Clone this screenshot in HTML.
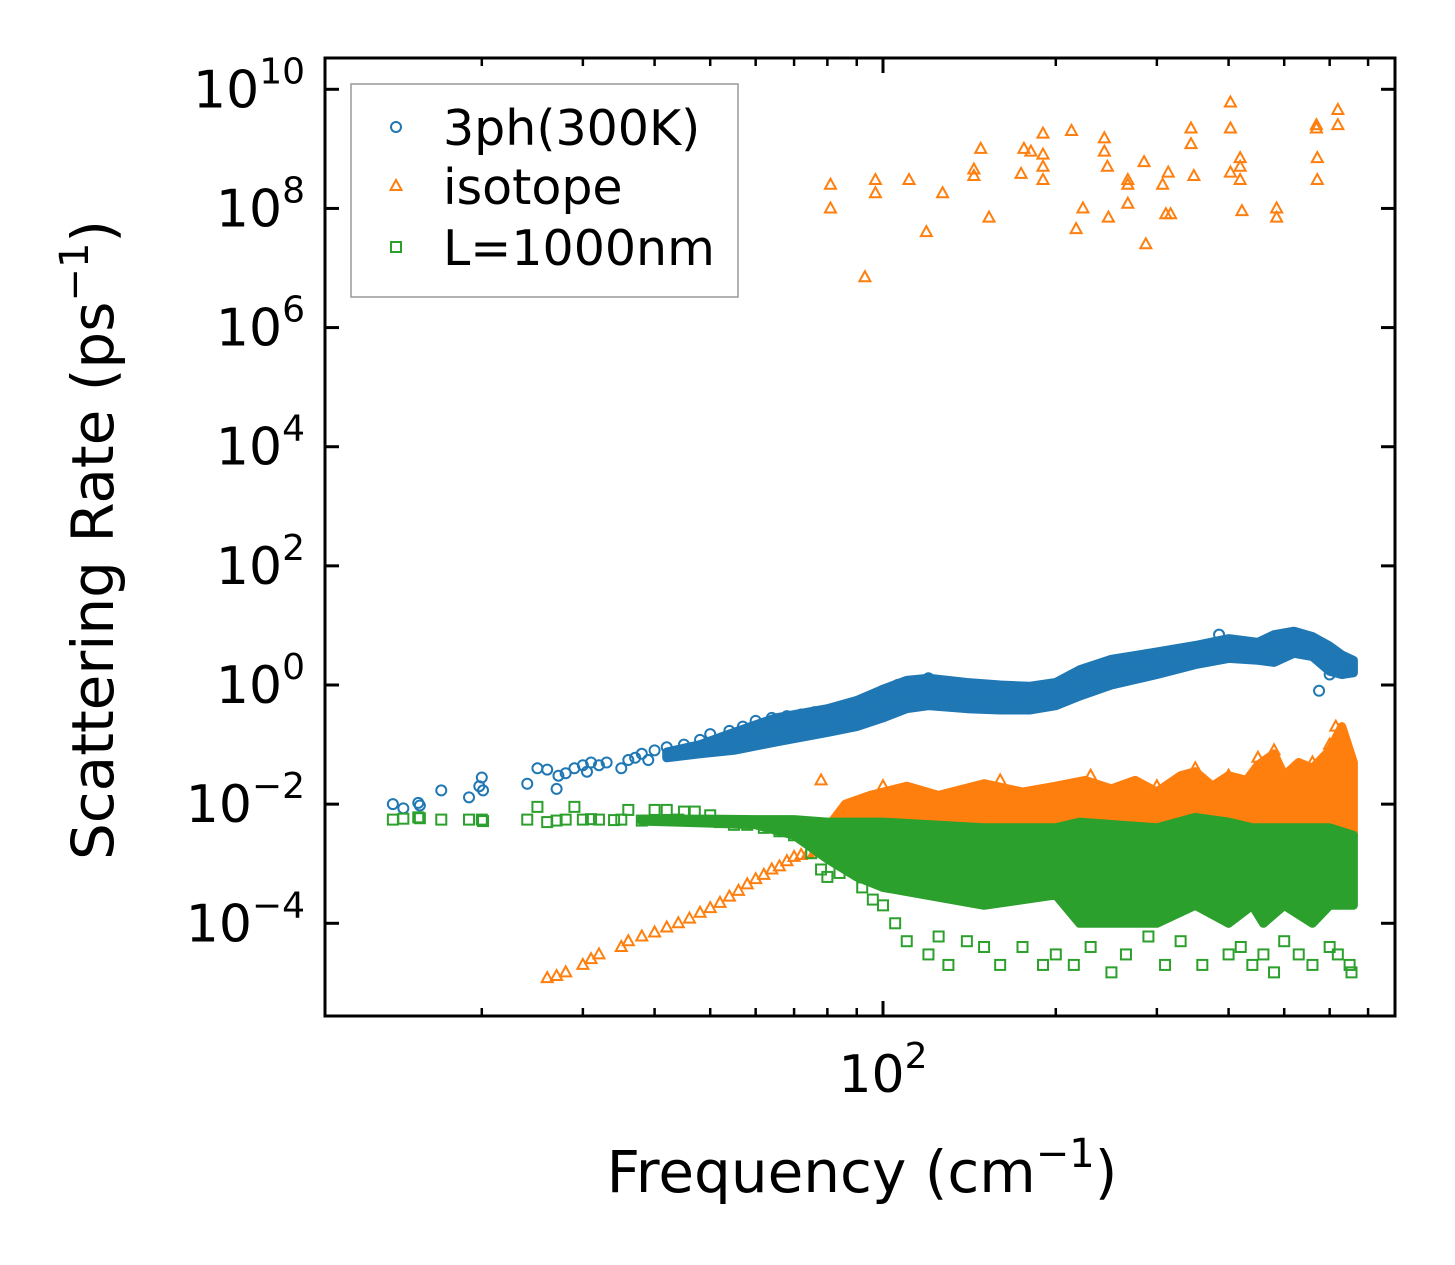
<!DOCTYPE html>
<html><head><meta charset="utf-8"><style>
html,body{margin:0;padding:0;background:#fff}
svg{display:block;font-family:"DejaVu Sans","Liberation Sans",sans-serif}
</style></head><body>
<svg id="chart" width="1455" height="1265" viewBox="0 0 1455 1265" xmlns="http://www.w3.org/2000/svg">
<rect x="0" y="0" width="1455" height="1265" fill="#fff"/>
<g id="bands"></g>
<g id="marks"></g>
<g id="axes"></g>
</svg>
<script>
// ---- data ----
const blueFreq=[14,14.6,15.5,15.6,17,19,19.8,20,20.1,24,25,26,27,27.2,28,29,30,30.5,31,32,33,35,36,37,38,39,40,42,45,48,50,54,57,60,64,68,72,76,82,88,94,100,106,112,120,125,135,150,170,200,240,290,340,385,400,450,490,520,560,575,600,640,655];
const blueRate=[0.01,0.0085,0.0105,0.0095,0.017,0.013,0.02,0.028,0.017,0.022,0.04,0.038,0.018,0.03,0.033,0.04,0.045,0.035,0.05,0.045,0.05,0.04,0.055,0.06,0.07,0.055,0.08,0.09,0.1,0.12,0.15,0.17,0.2,0.25,0.28,0.3,0.32,0.35,0.4,0.45,0.6,0.8,1.0,0.9,1.3,0.6,0.9,0.85,0.7,0.9,2.0,2.8,3.5,7.0,4.0,3.5,5.5,7.0,5.5,0.8,1.5,2.2,2.0];
const blueBandFreq=[42,48,55,65,80,90,100,110,120,140,160,180,200,220,250,300,350,400,450,480,520,560,600,630,660];
const blueBandLo=[0.06,0.07,0.08,0.11,0.16,0.2,0.28,0.4,0.45,0.4,0.38,0.38,0.45,0.65,1.0,1.5,2.2,2.8,2.6,2.4,3.4,3.0,1.7,1.5,1.6];
const blueBandHi=[0.075,0.1,0.16,0.28,0.4,0.55,0.85,1.2,1.3,1.1,1.0,0.95,1.1,1.8,2.7,3.6,4.6,6.0,5.2,7.0,8.0,6.5,4.5,3.2,2.6];

const orangeLowFreq=[26,27,28,30,31,32,35,36,38,40,42,44,46,48,50,52,54,56,58,60,62,64,66,68,70,72,74,76,78,80];
const orangeLowRate=[1.2e-5,1.3e-5,1.5e-5,2e-5,2.5e-5,3e-5,4e-5,5e-5,6e-5,7e-5,8.5e-5,1e-4,1.2e-4,1.5e-4,1.8e-4,2.2e-4,2.8e-4,3.5e-4,4.5e-4,5.5e-4,6.5e-4,8e-4,9e-4,1.1e-3,1.3e-3,1.4e-3,1.5e-3,1.6e-3,1.8e-3,2e-3];
const orangeTopFreq=[81,81,93,97,97,111,119,127,144,144,148,153,174,176,181,190,190,190,190,213,217,223,243,243,246,247,267,267,267,285,287,307,311,314,317,344,344,348,403,403,403,419,419,419,422,485,485,569,569,571,571,620,620];
const orangeTopRate=[2.5e8,1e8,7e6,3e8,1.8e8,3e8,4e7,1.8e8,3.5e8,4.5e8,1e9,7e7,3.8e8,1e9,9e8,1.8e9,8e8,5e8,3e8,2e9,4.5e7,1e8,1.5e9,9e8,5e8,7e7,3e8,1.2e8,2.5e8,6e8,2.5e7,2.5e8,8e7,4e8,8e7,2.2e9,1.2e9,3.5e8,6e9,2.2e9,4e8,7e8,5e8,3e8,9e7,1e8,7e7,2.5e9,2.2e9,7e8,3e8,4.5e9,2.5e9];
const orangeMidFreq=[78,100,160,230,300,350,400,450,480,560,600,615,630,650];
const orangeMidRate=[0.025,0.02,0.025,0.03,0.02,0.04,0.03,0.06,0.08,0.05,0.1,0.2,0.15,0.04];
const orangeBandFreq=[80,86,95,110,125,150,175,200,225,250,275,300,330,350,375,400,430,450,480,500,530,560,600,630,660];
const orangeBandLo=[0.002,0.003,0.003,0.003,0.003,0.003,0.003,0.003,0.003,0.003,0.003,0.003,0.002,0.002,0.003,0.003,0.002,0.002,0.002,0.002,0.001,0.001,0.001,0.002,0.003];
const orangeBandHi=[0.004,0.01,0.014,0.02,0.014,0.022,0.016,0.02,0.025,0.018,0.025,0.016,0.03,0.035,0.02,0.03,0.025,0.045,0.07,0.03,0.05,0.04,0.08,0.2,0.05];

const greenFreq=[14,14.6,15.5,15.6,17,19,20,20.1,24,25,26,27,28,29,30,31,32,34,35,36,38,40,42,44,45,47,50,52,55,58,62,66,70,75,78,80,84,88,92,96,100,105,110,120,125,130,140,150,160,175,190,200,215,230,250,265,290,310,330,360,400,420,440,460,480,500,530,560,600,620,650,655];
const greenRate=[0.0055,0.0057,0.006,0.0058,0.0055,0.0055,0.0055,0.0052,0.0055,0.009,0.005,0.0053,0.0055,0.009,0.0055,0.0056,0.0055,0.0054,0.0055,0.008,0.0053,0.008,0.008,0.0055,0.0075,0.0075,0.0065,0.005,0.0045,0.0045,0.004,0.0035,0.003,0.0015,0.0008,0.0006,0.0007,0.0012,0.0004,0.00025,0.0002,0.0001,0.00005,0.00003,0.00006,0.00002,0.00005,0.00004,0.00002,0.00004,0.00002,0.00003,0.00002,0.00004,0.000015,0.00003,0.00006,0.00002,0.00005,0.00002,0.00003,0.00004,0.00002,0.00003,0.000015,0.00005,0.00003,0.00002,0.00004,0.00003,0.00002,0.000015];
const greenBandFreq=[38,50,60,70,80,90,100,150,200,220,300,350,400,440,460,500,560,600,660];
const greenBandLo=[0.0052,0.0048,0.0045,0.003,0.0012,0.0006,0.0004,0.0002,0.0003,0.0001,0.0001,0.0002,0.0001,0.0002,0.0001,0.0002,0.0001,0.0002,0.0002];
const greenBandHi=[0.0056,0.0056,0.0055,0.0055,0.005,0.005,0.005,0.004,0.004,0.005,0.004,0.006,0.005,0.004,0.004,0.004,0.004,0.004,0.003];

const yTickExp=[10,8,6,4,2,0,-2,-4];
const xMinorTicks=[20,30,40,50,60,70,80,90,200,300,400,500,600,700];

// ---- axes ----
const L=325,R=1395,T=58,B=1016;
function X(f){return 883+574*(Math.log10(f)-2);}
function Y(v){return 685-59.57*Math.log10(v);}
const NS="http://www.w3.org/2000/svg";
function mk(tag,attrs,parent){const e=document.createElementNS(NS,tag);for(const k in attrs)e.setAttribute(k,attrs[k]);parent.appendChild(e);return e;}
const bands=document.getElementById('bands'),marks=document.getElementById('marks'),axes=document.getElementById('axes');
const C1="#1f77b4",C2="#ff7f0e",C3="#2ca02c";

function band(fr,lo,hi,col,name,parent){
  let pts=[];
  for(let i=0;i<fr.length;i++)pts.push(X(fr[i]).toFixed(1)+","+Y(hi[i]).toFixed(1));
  for(let i=fr.length-1;i>=0;i--)pts.push(X(fr[i]).toFixed(1)+","+Y(lo[i]).toFixed(1));
  const p=mk('polygon',{points:pts.join(' '),fill:col,stroke:col,'stroke-width':9,'stroke-linejoin':'round'},parent);
  
  
  return p;
}
function circ(x,y,p){return mk('circle',{cx:x,cy:y,r:5,fill:'none',stroke:C1,'stroke-width':2},p);}
function tri(x,y,p){return mk('polygon',{points:`${x},${y-6} ${x-5.5},${y+4} ${x+5.5},${y+4}`,fill:'none',stroke:C2,'stroke-width':2},p);}
function sq(x,y,p){return mk('rect',{x:x-5,y:y-5,width:10,height:10,fill:'none',stroke:C3,'stroke-width':2},p);}

// blue series
const gB=mk('g',{},marks);


band(blueBandFreq,blueBandLo,blueBandHi,C1,'band-3ph-300k',gB);
for(let i=0;i<blueFreq.length;i++){const c=circ(X(blueFreq[i]),Y(blueRate[i]),gB);

}
// orange series
const gO=mk('g',{},marks);


band(orangeBandFreq,orangeBandLo,orangeBandHi,C2,'band-isotope',gO);
[[orangeLowFreq,orangeLowRate],[orangeTopFreq,orangeTopRate],[orangeMidFreq,orangeMidRate]].forEach(([f,v])=>{
  for(let i=0;i<f.length;i++){const t=tri(X(f[i]),Y(v[i]),gO);
  
  }
});
// green series (on top)
const gG=mk('g',{},marks);


band(greenBandFreq,greenBandLo,greenBandHi,C3,'band-l1000nm',gG);
for(let i=0;i<greenFreq.length;i++){const s=sq(X(greenFreq[i]),Y(greenRate[i]),gG);

}

// frame
const fr=mk('rect',{x:L,y:T,width:R-L,height:B-T,fill:'none',stroke:'#000','stroke-width':3},axes);


// y ticks
yTickExp.forEach(e=>{
  const y=Y(Math.pow(10,e));
  mk('line',{x1:L,x2:L+14,y1:y,y2:y,stroke:'#000','stroke-width':3},axes);
  mk('line',{x1:R,x2:R-14,y1:y,y2:y,stroke:'#000','stroke-width':3},axes);
  const t=mk('text',{x:305,y:y+18,'text-anchor':'end','font-size':52,fill:'#000'},axes);
  
  
  t.innerHTML='10<tspan dy="-24" font-size="36">'+(e<0?'\u2212':'')+Math.abs(e)+'</tspan>';
});
// x ticks
xMinorTicks.forEach(f=>{
  const x=X(f);
  mk('line',{x1:x,x2:x,y1:B,y2:B-8,stroke:'#000','stroke-width':2.5},axes);
  mk('line',{x1:x,x2:x,y1:T,y2:T+8,stroke:'#000','stroke-width':2.5},axes);
});
{const x=X(100);
mk('line',{x1:x,x2:x,y1:B,y2:B-15,stroke:'#000','stroke-width':3},axes);
mk('line',{x1:x,x2:x,y1:T,y2:T+15,stroke:'#000','stroke-width':3},axes);
const t=mk('text',{x:x,y:1092,'text-anchor':'middle','font-size':52,fill:'#000'},axes);


t.innerHTML='10<tspan dy="-24" font-size="36">2</tspan>';}
// axis titles
const xt=mk('text',{x:862,y:1192,'text-anchor':'middle','font-size':58,fill:'#000'},axes);


xt.innerHTML='Frequency (cm<tspan dy="-25" font-size="40">\u22121</tspan><tspan dy="25">)</tspan>';
const yt=mk('text',{x:0,y:0,'text-anchor':'middle','font-size':58,fill:'#000',transform:'translate(113,540) rotate(-90)'},axes);


yt.innerHTML='Scattering Rate (ps<tspan dy="-25" font-size="40">\u22121</tspan><tspan dy="25">)</tspan>';
// legend
const lg=mk('g',{},axes);


mk('rect',{x:351,y:84,width:387,height:213,fill:'#fff',stroke:'#999','stroke-width':1.5},lg);
const labels=['3ph(300K)','isotope','L=1000nm'],ys=[131,190,251],fns=[circ,tri,sq];
for(let i=0;i<3;i++){
  const e=mk('g',{},lg);
  
  
  fns[i](396,ys[i]-4,e);
  const t=mk('text',{x:443,y:ys[i]+14,'font-size':49,fill:'#000'},e);
  t.textContent=labels[i];
}
</script>
</body></html>
